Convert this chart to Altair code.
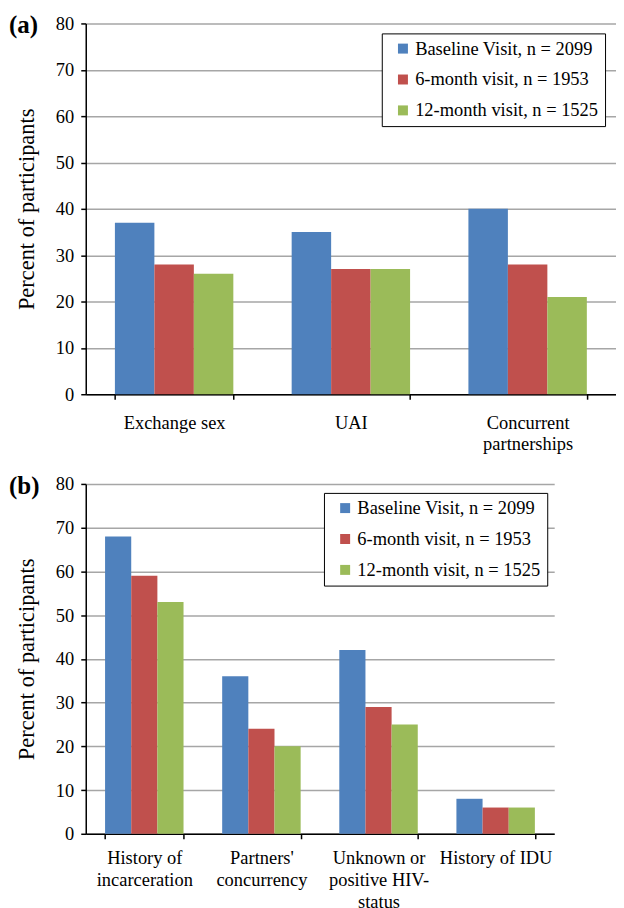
import altair as alt
import pandas as pd

FONT = "Liberation Serif"

series = ["Baseline Visit, n = 2099", "6-month visit, n = 1953", "12-month visit, n = 1525"]
colors = ["#4F81BD", "#C0504D", "#9BBB59"]

cats_a = ["Exchange sex", "UAI", "Concurrent\npartnerships"]
baseline_a = [37, 35, 40]
m6_a = [28, 27, 28]
m12_a = [26, 27, 21]

cats_b = ["History of\nincarceration", "Partners'\nconcurrency", "Unknown or\npositive HIV-\nstatus", "History of IDU"]
baseline_b = [68, 36, 42, 8]
m6_b = [59, 24, 29, 6]
m12_b = [53, 20, 25, 6]

y_ticks = [0, 10, 20, 30, 40, 50, 60, 70, 80]


def make_df(cats, vals):
    rows = []
    for s, v in zip(series, vals):
        for c, x in zip(cats, v):
            rows.append({"cat": c, "series": s, "value": x})
    return pd.DataFrame(rows)


def panel(tag, cats, vals, width, height, lx, ly, lab_pad, lab_lh):
    df = make_df(cats, vals)
    bars = alt.Chart(df).mark_bar().encode(
        x=alt.X("cat:N", sort=cats, title=None,
                scale=alt.Scale(paddingInner=0.33, paddingOuter=0.165),
                axis=alt.Axis(labelAngle=0, tickBand="extent", grid=False,
                              labelExpr='split(datum.label, "\\n")',
                              domainColor="black", domainWidth=1.5,
                              tickColor="black", tickWidth=1.5, tickSize=5,
                              labelFont=FONT, labelFontSize=18.5, labelColor="black",
                              labelPadding=lab_pad, labelLineHeight=lab_lh, labelLimit=300)),
        xOffset=alt.XOffset("series:N", sort=series),
        y=alt.Y("value:Q", scale=alt.Scale(domain=[0, 80]),
                axis=alt.Axis(values=y_ticks, title="Percent of participants",
                              titleFont=FONT, titleFontSize=22.5, titleFontWeight="normal",
                              titleColor="black", titlePadding=17,
                              labelFont=FONT, labelFontSize=18.5, labelColor="black",
                              labelPadding=7, tickSize=5, tickColor="black", tickWidth=1.5,
                              domainColor="black", domainWidth=1.5,
                              gridColor="#A6A6A6", gridWidth=1.5)),
        color=alt.Color("series:N", sort=series,
                        scale=alt.Scale(domain=series, range=colors),
                        legend=alt.Legend(title=None, orient="none", legendX=lx, legendY=ly,
                                          strokeColor="black", fillColor="white",
                                          padding=6, rowPadding=12, symbolOffset=6,
                                          symbolType="square", symbolSize=100,
                                          symbolStrokeWidth=0, labelOffset=3,
                                          labelFont=FONT, labelFontSize=18.5,
                                          labelColor="black", labelLimit=400)),
    )
    label = alt.Chart(pd.DataFrame({"t": [tag]})).mark_text(
        font=FONT, fontSize=25, fontWeight="bold", align="left", baseline="middle",
        color="black").encode(text="t:N", x=alt.value(-77), y=alt.value(2))
    return alt.layer(bars, label).properties(width=width, height=height)


chart_a = panel("(a)", cats_a, [baseline_a, m6_a, m12_a], 532, 372, 297, 10, 14, 21)
chart_b = panel("(b)", cats_b, [baseline_b, m6_b, m12_b], 470, 351, 239, 9, 10, 22)

chart = (
    alt.vconcat(chart_a, chart_b, spacing=21)
    .resolve_scale(x="independent", xOffset="independent", y="independent", color="independent")
    .properties(padding={"top": 4, "left": 1, "right": 0, "bottom": 0})
    .configure_view(stroke=None)
)

chart.save("out.html", embed_options={"renderer": "svg", "actions": False})
